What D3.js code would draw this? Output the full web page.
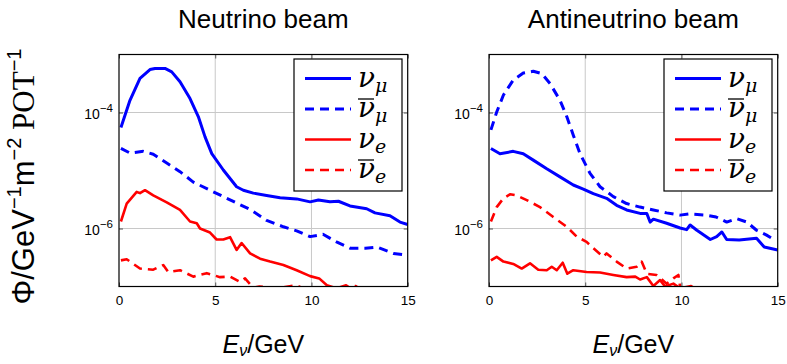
<!DOCTYPE html>
<html>
<head>
<meta charset="utf-8">
<script src="https://cdn.jsdelivr.net/npm/d3@7"></script>
<style>
  body { margin: 0; background: #fff; }
  svg text { font-family: "Liberation Sans", "DejaVu Sans", sans-serif; fill: #000; }
</style>
</head>
<body>
<svg id="chart" width="787" height="364"></svg>
<script>
// ---------------------------------------------------------------------------
// Data: [E_nu (GeV), flux (GeV^-1 m^-2 POT^-1)]
// ---------------------------------------------------------------------------

const xTicks = [0, 5, 10, 15];
const yTicks = [1e-4, 1e-6];
const panelTitles = ['Neutrino beam', 'Antineutrino beam'];

// Neutrino beam
const fhcNuMu = [[0.1,5.50e-5],[0.57,1.62e-4],[1.09,3.89e-4],[1.61,5.50e-4],[1.87,5.75e-4],[2.39,5.75e-4],[2.74,5.01e-4],[3.17,3.39e-4],[3.69,1.74e-4],[4.12,8.51e-5],[4.47,3.80e-5],[4.82,1.95e-5],[5.42,1.02e-5],[6.11,5.25e-6],[6.46,4.57e-6],[6.98,4.07e-6],[7.67,3.72e-6],[8.37,3.39e-6],[9.23,3.24e-6],[9.93,2.88e-6],[10.36,3.09e-6],[10.96,2.88e-6],[11.4,2.95e-6],[12.0,2.45e-6],[12.87,2.19e-6],[13.3,1.86e-6],[14.08,1.66e-6],[14.6,1.29e-6],[15,1.17e-6]];
const fhcNuMuBar = [[0.1,2.40e-5],[0.57,2.00e-5],[1.26,2.14e-5],[1.78,1.91e-5],[2.48,1.35e-5],[3.17,9.55e-6],[3.86,6.31e-6],[4.73,4.57e-6],[5.42,3.55e-6],[6.11,2.75e-6],[6.81,2.14e-6],[7.67,1.38e-6],[8.54,1.07e-6],[9.23,9.12e-7],[9.93,7.24e-7],[10.6,7.94e-7],[11.3,5.89e-7],[12.0,4.57e-7],[12.8,4.57e-7],[13.4,4.79e-7],[14.26,3.72e-7],[15,3.47e-7]];
const fhcNuE = [[0.1,1.32e-6],[0.4,2.69e-6],[0.92,4.27e-6],[1.09,4.07e-6],[1.35,4.57e-6],[1.78,3.72e-6],[2.48,2.82e-6],[3.17,2.09e-6],[3.69,1.32e-6],[4.04,1.23e-6],[4.21,1.00e-6],[4.73,8.51e-7],[5.07,6.46e-7],[5.42,6.46e-7],[5.77,7.08e-7],[6.11,4.27e-7],[6.37,5.62e-7],[6.81,3.72e-7],[7.33,3.02e-7],[7.85,2.69e-7],[8.54,2.34e-7],[9.23,1.91e-7],[9.93,1.51e-7],[10.4,1.38e-7],[10.8,1.05e-7],[11.3,9.3e-8],[11.8,1.05e-7],[12.3,8.0e-8]];
const fhcNuEBar = [[0.1,2.82e-7],[0.4,2.95e-7],[1.09,2.04e-7],[1.78,1.95e-7],[2.3,2.34e-7],[2.56,1.78e-7],[3.17,1.91e-7],[3.86,1.48e-7],[4.56,1.70e-7],[5.25,1.45e-7],[5.77,1.48e-7],[6.29,1.20e-7],[6.55,1.38e-7],[6.98,9.5e-8],[7.3,1.0e-7],[8.2,9.3e-8],[9.23,1.05e-7],[10.0,7.9e-8],[11.0,7.0e-8],[12.3,1.02e-7],[13.0,7.0e-8]];

// Antineutrino beam
const rhcNuMu = [[0.1,2.40e-5],[0.57,1.95e-5],[1.26,2.14e-5],[1.78,1.95e-5],[2.3,1.51e-5],[3.0,1.07e-5],[3.69,7.76e-6],[4.38,5.62e-6],[4.9,4.79e-6],[5.42,3.98e-6],[6.11,3.31e-6],[6.63,2.51e-6],[7.15,2.09e-6],[7.85,1.82e-6],[8.2,1.82e-6],[8.37,1.29e-6],[8.54,1.45e-6],[9.23,1.23e-6],[9.93,1.02e-6],[10.27,9.55e-7],[10.45,1.15e-6],[10.8,9.33e-7],[11.5,6.46e-7],[11.83,7.24e-7],[12.1,8.71e-7],[12.35,6.46e-7],[13.0,6.31e-7],[13.9,6.76e-7],[14.3,4.79e-7],[15,4.27e-7]];
const rhcNuMuBar = [[0.1,5.01e-5],[0.4,1.02e-4],[0.75,2.00e-4],[1.26,3.63e-4],[1.78,4.79e-4],[2.3,5.13e-4],[2.74,4.68e-4],[3.17,3.16e-4],[3.69,1.62e-4],[4.04,8.51e-5],[4.38,4.07e-5],[4.73,1.95e-5],[5.25,8.91e-6],[5.77,5.25e-6],[6.46,3.55e-6],[7.15,2.69e-6],[7.85,2.34e-6],[8.54,2.09e-6],[9.23,1.86e-6],[9.93,1.70e-6],[10.4,1.78e-6],[11.3,1.70e-6],[11.8,1.58e-6],[12.35,1.29e-6],[12.87,1.48e-6],[13.4,1.29e-6],[13.9,9.33e-7],[14.4,7.76e-7],[14.85,6.31e-7]];
const rhcNuE = [[0.1,2.82e-7],[0.4,3.24e-7],[0.75,2.69e-7],[1.26,2.45e-7],[1.7,2.04e-7],[2.13,2.51e-7],[2.56,1.95e-7],[3.0,1.91e-7],[3.26,2.19e-7],[3.52,1.91e-7],[3.83,2.57e-7],[4.07,1.66e-7],[4.38,1.91e-7],[5.07,1.78e-7],[5.77,1.74e-7],[6.46,1.58e-7],[7.15,1.45e-7],[7.6,1.48e-7],[7.85,1.32e-7],[8.2,1.45e-7],[8.54,1.02e-7],[8.89,1.29e-7],[9.15,1.00e-7],[9.58,1.12e-7],[9.93,9.3e-8],[10.5,1.02e-7],[11.0,7.9e-8]];
const rhcNuEBar = [[0.1,1.32e-6],[0.4,2.34e-6],[0.75,3.31e-6],[1.09,3.89e-6],[1.44,3.72e-6],[1.96,3.09e-6],[2.65,2.34e-6],[3.34,1.58e-6],[4.04,1.07e-6],[4.56,7.24e-7],[5.07,5.89e-7],[5.42,4.57e-7],[5.94,3.24e-7],[6.11,3.72e-7],[6.63,2.69e-7],[7.15,2.04e-7],[7.67,2.19e-7],[7.93,2.69e-7],[8.2,1.66e-7],[8.7,1.58e-7],[9.23,1.12e-7],[9.58,1.38e-7],[9.84,1.58e-7],[9.93,9.8e-8],[10.5,6.3e-8]];

// Legend order: nu_mu, nubar_mu, nu_e, nubar_e
const flavours = [
  { sub: 'μ', bar: false, color: '#0000ff', dash: null,  width: 3   },
  { sub: 'μ', bar: true,  color: '#0000ff', dash: '9,6', width: 3   },
  { sub: 'e', bar: false, color: '#ff0000', dash: null,  width: 2.6 },
  { sub: 'e', bar: true,  color: '#ff0000', dash: '9,6', width: 2.6 },
];
const panelSeries = [
  [fhcNuMu, fhcNuMuBar, fhcNuE, fhcNuEBar],
  [rhcNuMu, rhcNuMuBar, rhcNuE, rhcNuEBar],
];

// ---------------------------------------------------------------------------
// Layout
// ---------------------------------------------------------------------------

const svg = d3.select('#chart');
const yTop = 54.5, yBottom = 286.5;
const panelLeft = [119, 489];
const panelW = 288.7;

const y = d3.scaleLog().domain([1e-7, 1e-3]).range([yBottom, yTop]);

// y-axis label
const yLab = svg.append('text')
  .attr('transform', `translate(34,${(yTop + yBottom) / 2 + 6}) rotate(-90)`)
  .attr('text-anchor', 'middle').attr('font-size', 31);
yLab.append('tspan').text('Φ/GeV');
yLab.append('tspan').attr('font-size', 20).attr('dy', -13).text('−1');
yLab.append('tspan').attr('dy', 13).text('m');
yLab.append('tspan').attr('font-size', 20).attr('dy', -13).text('−2');
yLab.append('tspan').attr('dy', 13).attr('font-family', '"Liberation Serif", serif').text(' POT');
yLab.append('tspan').attr('font-size', 20).attr('dy', -13).text('−1');

panelLeft.forEach((x0, p) => {
  const x = d3.scaleLinear().domain([0, 15]).range([x0, x0 + panelW]);
  const g = svg.append('g');
  const clipId = 'clip' + p;

  g.append('clipPath').attr('id', clipId)
    .append('rect').attr('x', x0).attr('y', yTop).attr('width', panelW).attr('height', yBottom - yTop);

  // grid
  g.selectAll('.gx').data(xTicks.slice(1, -1)).join('line')
    .attr('x1', d => x(d)).attr('x2', d => x(d)).attr('y1', yTop).attr('y2', yBottom)
    .attr('stroke', '#c8c8c8').attr('stroke-width', 1);
  g.selectAll('.gy').data(yTicks).join('line')
    .attr('x1', x0).attr('x2', x0 + panelW).attr('y1', d => y(d)).attr('y2', d => y(d))
    .attr('stroke', '#c8c8c8').attr('stroke-width', 1);

  // axes (inward ticks)
  const axB = g.append('g').attr('transform', `translate(0,${yBottom})`)
    .call(d3.axisBottom(x).tickValues(xTicks).tickSize(-4).tickPadding(9));
  const axT = g.append('g').attr('transform', `translate(0,${yTop})`)
    .call(d3.axisTop(x).tickValues(xTicks).tickSize(-4).tickFormat(''));
  const axL = g.append('g').attr('transform', `translate(${x0},0)`)
    .call(d3.axisLeft(y).tickValues(yTicks).tickSize(-4).tickFormat(''));
  const axR = g.append('g').attr('transform', `translate(${x0 + panelW},0)`)
    .call(d3.axisRight(y).tickValues(yTicks).tickSize(-4).tickFormat(''));
  [axB, axT, axL, axR].forEach(a => {
    a.select('.domain').remove();
    a.selectAll('.tick line').attr('stroke', '#555').attr('stroke-width', 1);
  });
  axB.selectAll('text').attr('font-size', 13.5)
    .style('font-family', '"Liberation Sans", sans-serif');

  // y tick labels 10^-n
  yTicks.forEach(v => {
    const t = g.append('text').attr('x', x0 - 6).attr('y', y(v) + 6)
      .attr('text-anchor', 'end').attr('font-size', 14);
    t.append('tspan').text('10');
    t.append('tspan').attr('font-size', 11.5).attr('dy', -7).text('−' + Math.round(-Math.log10(v)));
  });

  // curves
  const line = d3.line().x(d => x(d[0])).y(d => y(d[1]));
  const cg = g.append('g').attr('clip-path', `url(#${clipId})`);
  panelSeries[p].forEach((data, i) => {
    const f = flavours[i];
    cg.append('path').datum(data)
      .attr('d', line).attr('fill', 'none')
      .attr('stroke', f.color).attr('stroke-width', f.width)
      .attr('stroke-linejoin', 'round')
      .attr('stroke-dasharray', f.dash);
  });

  // frame
  g.append('rect').attr('x', x0).attr('y', yTop).attr('width', panelW).attr('height', yBottom - yTop)
    .attr('fill', 'none').attr('stroke', '#000').attr('stroke-width', 1.2);

  // title and x label
  g.append('text').attr('x', x0 + panelW / 2).attr('y', 28)
    .attr('text-anchor', 'middle').attr('font-size', 26).text(panelTitles[p]);
  const xl = g.append('text').attr('x', x0 + panelW / 2).attr('y', 353)
    .attr('text-anchor', 'middle').attr('font-size', 25);
  xl.append('tspan').attr('font-style', 'italic').text('E');
  xl.append('tspan').attr('font-style', 'italic').attr('font-size', 16).attr('dy', 3).text('ν');
  xl.append('tspan').attr('dy', -3).text('/GeV');

  // legend
  const lx = x0 + 175, ly = 59;
  const lg = g.append('g');
  lg.append('rect').attr('x', lx).attr('y', ly).attr('width', 108).attr('height', 132)
    .attr('fill', '#fff').attr('stroke', '#000').attr('stroke-width', 1.2);
  flavours.forEach((f, i) => {
    const ry = ly + 19.5 + i * 30.5;
    lg.append('line').attr('x1', lx + 11).attr('x2', lx + 57).attr('y1', ry).attr('y2', ry)
      .attr('stroke', f.color).attr('stroke-width', f.width).attr('stroke-dasharray', f.dash);
    const t = lg.append('text').attr('x', lx + 64).attr('y', ry + 8)
      .attr('font-size', 28).style('font-family', '"DejaVu Serif", serif');
    t.append('tspan').attr('font-style', 'italic').text('ν');
    t.append('tspan').attr('font-style', 'italic').attr('font-size', 19).attr('dy', 5).text(f.sub);
    if (f.bar) {
      lg.append('line').attr('x1', lx + 64).attr('x2', lx + 80)
        .attr('y1', ry - 10).attr('y2', ry - 10)
        .attr('stroke', '#000').attr('stroke-width', 1.3);
    }
  });
});
</script>
</body>
</html>
